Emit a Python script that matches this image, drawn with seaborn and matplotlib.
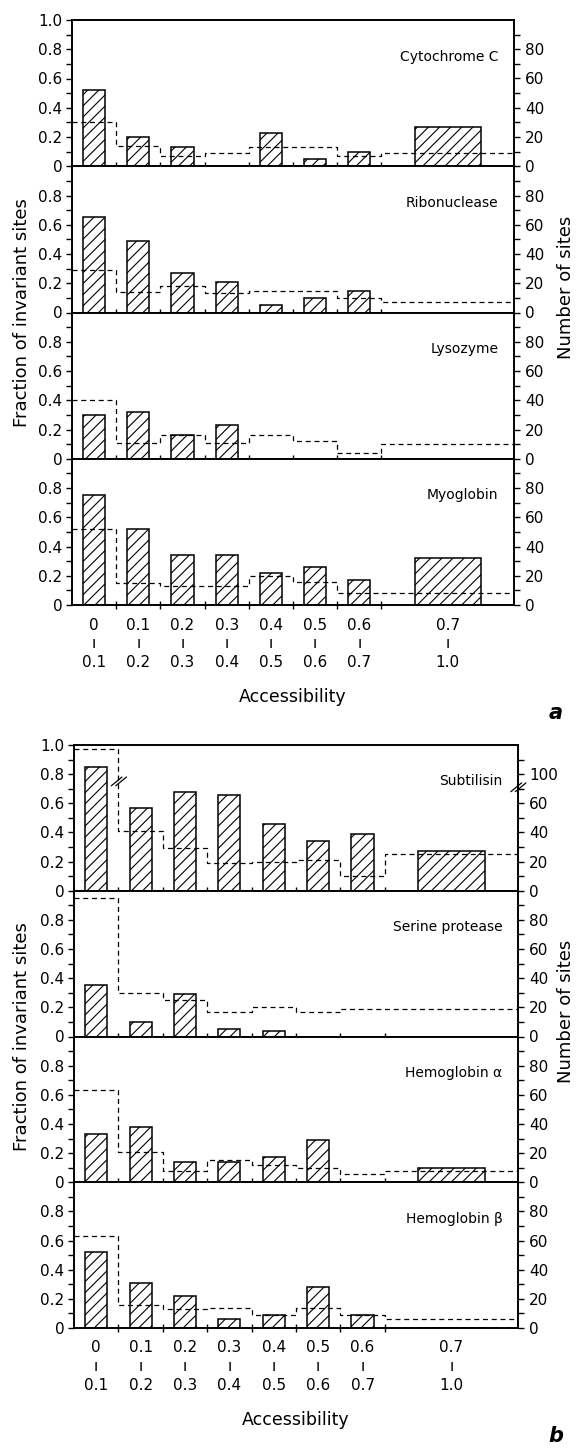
import numpy as np
import matplotlib
matplotlib.use("Agg")
import matplotlib.pyplot as plt
import seaborn as sns
from matplotlib.ticker import FixedLocator

# Accessibility bins (the last bin is wider: 0.7 - 1.0)
edges = [0.0, 0.1, 0.2, 0.3, 0.4, 0.5, 0.6, 0.7, 1.0]
bin_labels = ["0\nı\n0.1", "0.1\nı\n0.2", "0.2\nı\n0.3", "0.3\nı\n0.4",
              "0.4\nı\n0.5", "0.5\nı\n0.6", "0.6\nı\n0.7", "0.7\nı\n1.0"]

# Fraction of invariant sites per bin (bars) and number of sites per bin (dashed)
cytochrome_invariant = [0.52, 0.20, 0.13, 0.0, 0.23, 0.05, 0.10, 0.27]
cytochrome_sites = [30, 14, 7, 9, 13, 13, 7, 9]

ribonuclease_invariant = [0.65, 0.49, 0.27, 0.21, 0.05, 0.10, 0.15, 0.0]
ribonuclease_sites = [29, 14, 18, 13, 15, 15, 10, 7]

lysozyme_invariant = [0.30, 0.32, 0.16, 0.23, 0.0, 0.0, 0.0, 0.0]
lysozyme_sites = [40, 11, 16, 11, 16, 12, 4, 10]

myoglobin_invariant = [0.75, 0.52, 0.34, 0.34, 0.22, 0.26, 0.17, 0.32]
myoglobin_sites = [52, 15, 13, 13, 20, 16, 8, 8]

subtilisin_invariant = [0.85, 0.57, 0.68, 0.66, 0.46, 0.34, 0.39, 0.27]
subtilisin_sites = [117, 41, 29, 19, 20, 21, 10, 25]

serine_invariant = [0.35, 0.10, 0.29, 0.05, 0.04, 0.0, 0.0, 0.0]
serine_sites = [95, 30, 25, 17, 20, 17, 19, 19]

hba_invariant = [0.33, 0.38, 0.14, 0.14, 0.17, 0.29, 0.0, 0.10]
hba_sites = [63, 21, 8, 15, 12, 10, 6, 8]

hbb_invariant = [0.52, 0.31, 0.22, 0.06, 0.09, 0.28, 0.09, 0.0]
hbb_sites = [63, 16, 13, 14, 9, 14, 9, 6]

group_a = [("Cytochrome C", cytochrome_invariant, cytochrome_sites),
           ("Ribonuclease", ribonuclease_invariant, ribonuclease_sites),
           ("Lysozyme", lysozyme_invariant, lysozyme_sites),
           ("Myoglobin", myoglobin_invariant, myoglobin_sites)]
group_b = [("Subtilisin", subtilisin_invariant, subtilisin_sites),
           ("Serine protease", serine_invariant, serine_sites),
           ("Hemoglobin α", hba_invariant, hba_sites),
           ("Hemoglobin β", hbb_invariant, hbb_sites)]

sns.set_theme(style="ticks")
plt.rcParams["font.family"] = ["DejaVu Sans"]
plt.rcParams["hatch.linewidth"] = 0.8
plt.rcParams["hatch.color"] = "black"
for key in ("text.color", "axes.labelcolor", "xtick.color", "ytick.color",
            "axes.edgecolor"):
    plt.rcParams[key] = "black"

W, H = 581, 1452
fig = plt.figure(figsize=(W / 100, H / 100), dpi=100)
fig.patch.set_facecolor("white")

centers = [(lo + hi) / 2 for lo, hi in zip(edges[:-1], edges[1:])]

# broken right axis for the subtilisin panel: 100 sits where 80 would be
def fwd(y):
    y = np.asarray(y, dtype=float)
    return np.where(y > 80, np.maximum(y - 20, 80), y)

def inv(v):
    v = np.asarray(v, dtype=float)
    return np.where(v > 80, v + 20, v)

TICK_FS = 11
NAME_FS = 10


def draw_group(panels, x_l, x_r, top, bottom, first_broken=False, letter="a"):
    n = len(panels)
    ph = (bottom - top) / n
    for i, (name, frac, sites) in enumerate(panels):
        y_top = top + i * ph
        ax = fig.add_axes([x_l / W, 1 - (y_top + ph) / H, (x_r - x_l) / W, ph / H])
        sns.histplot(x=centers, weights=frac, bins=edges, shrink=0.5, stat="count",
                     ax=ax, color="white", edgecolor="black", linewidth=1.1,
                     alpha=1, legend=False)
        for p in ax.patches:
            p.set_hatch("///")
            p.set_facecolor("white")
        ax.set_xlim(0, 1.0)
        ax.set_ylim(0, 1.0)
        ax.set_ylabel("")
        ax.set_xlabel("")

        # left axis
        if i == 0:
            yt = [0, 0.2, 0.4, 0.6, 0.8, 1.0]
            ylab = ["0", "0.2", "0.4", "0.6", "0.8", "1.0"]
        else:
            yt = [0, 0.2, 0.4, 0.6, 0.8]
            ylab = ["0", "0.2", "0.4", "0.6", "0.8"]
        ax.set_yticks(yt)
        ax.set_yticklabels(ylab, fontsize=TICK_FS)
        ax.yaxis.set_minor_locator(FixedLocator([0.1, 0.3, 0.5, 0.7, 0.9]))
        ax.tick_params(axis="y", which="both", direction="out", length=4,
                       width=1.0, pad=3, colors="black")

        # x ticks at bin edges, labels at bin centres
        ax.set_xticks(edges[1:-1])
        ax.set_xticklabels([])
        ax.tick_params(axis="x", which="major", direction="inout", length=6, width=1.0)
        ax.set_xticks(centers, minor=True)
        if i == n - 1:
            ax.set_xticklabels(bin_labels, minor=True, fontsize=TICK_FS, linespacing=1.3)
        else:
            ax.set_xticklabels([], minor=True)
        ax.tick_params(axis="x", which="minor", length=0, pad=9)

        for s in ax.spines.values():
            s.set_linewidth(1.2)
            s.set_color("black")

        # right axis: number of sites
        ax2 = ax.twinx()
        broken = first_broken and i == 0
        if broken:
            ax2.set_yscale("function", functions=(fwd, inv))
        sns.histplot(x=centers, weights=sites, bins=edges, element="step", fill=False,
                     stat="count", ax=ax2, color="black", linewidth=0.9,
                     linestyle=(0, (4, 3)), legend=False)
        ax2.set_ylabel("")
        if broken:
            ax2.set_ylim(0, 120)
            ax2.set_yticks([0, 20, 40, 60, 100])
            ax2.set_yticklabels(["0", "20", "40", "60", "100"], fontsize=TICK_FS)
            ax2.yaxis.set_minor_locator(FixedLocator([10, 30, 50, 70, 110]))
        else:
            ax2.set_ylim(0, 100)
            ax2.set_yticks([0, 20, 40, 60, 80])
            ax2.set_yticklabels(["0", "20", "40", "60", "80"], fontsize=TICK_FS)
            ax2.yaxis.set_minor_locator(FixedLocator([10, 30, 50, 70, 90]))
        ax2.tick_params(axis="y", which="both", direction="out", length=4,
                        width=1.0, pad=4, colors="black")
        for s in ax2.spines.values():
            s.set_linewidth(1.2)
            s.set_color("black")

        ax.text(0.965, 0.75, name, transform=ax.transAxes, ha="right", va="center",
                fontsize=NAME_FS)

        if broken:
            # break marks on the right axis and on the first step of the dashed line
            for dx in (-0.004, 0.006):
                ax.plot([1 - 0.012 + dx, 1 + 0.012 + dx], [0.68, 0.74],
                        transform=ax.transAxes, color="black", lw=0.9, clip_on=False)
                ax.plot([0.1 - 0.012 + dx, 0.1 + 0.012 + dx], [0.72, 0.78],
                        transform=ax.transAxes, color="black", lw=0.9, clip_on=False)

    mid = (top + bottom) / 2
    fig.text(22 / W, 1 - mid / H, "Fraction of invariant sites", rotation=90,
             ha="center", va="center", fontsize=13)
    fig.text(566 / W, 1 - (mid - 25) / H, "Number of sites", rotation=90,
             ha="center", va="center", fontsize=13)
    fig.text((x_l + 0.5 * (x_r - x_l)) / W, 1 - (bottom + 92) / H, "Accessibility",
             ha="center", va="center", fontsize=12.5)
    fig.text(556 / W, 1 - (bottom + 108) / H, letter, ha="center", va="center",
             fontsize=15, fontweight="bold", style="italic")


draw_group(group_a, 72, 514, 20, 605, letter="a")
draw_group(group_b, 74, 518, 745, 1328, first_broken=True, letter="b")

fig.savefig("out.png", dpi=100, facecolor="white")
